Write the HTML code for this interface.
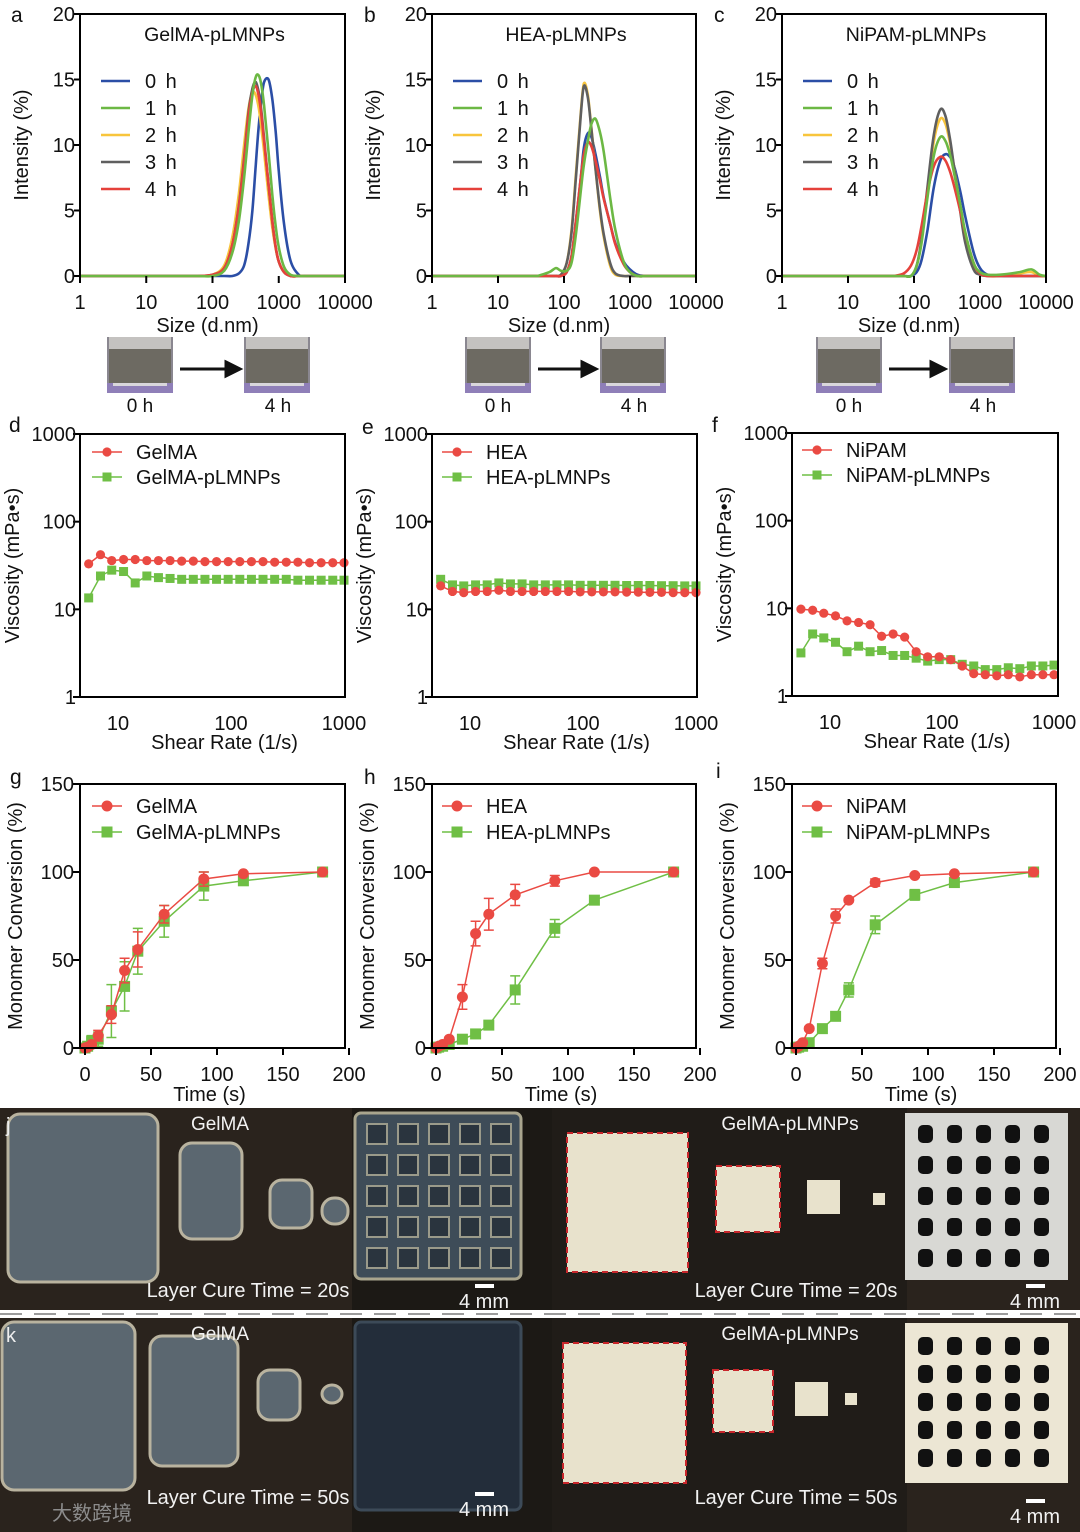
<!DOCTYPE html>
<html><head><meta charset="utf-8">
<style>
html,body{margin:0;padding:0;background:#fff;}
svg{display:block;font-family:"Liberation Sans","Noto Sans CJK SC",sans-serif;}
</style></head>
<body>
<svg id="fig" width="1080" height="1532" viewBox="0 0 1080 1532" xmlns="http://www.w3.org/2000/svg"></svg>
<script>
// ---------- DLS data ----------
const dlsSizesA=[60,100,150,200,250,300,350,400,450,500,550,600,700,800,900,1000,1200,1500,2000,2500,3500];
const dlsA0=[0,0,0,0,0.2,0.8,2.5,5,8.5,11.5,13.5,14.8,15,13.5,11,8,4,1.2,0.1,0,0];
const dlsA1=[0,0,0.4,1.8,4.2,7.5,11,13.8,15.2,15.3,14.5,13,9.5,6.2,3.8,2.2,0.7,0.1,0,0,0];
const dlsA2=[0,0.1,0.8,3,6.3,10,12.8,14,13.8,12.8,11.2,9.5,6.2,3.7,2.1,1.1,0.3,0,0,0,0];
const dlsA3=[0,0.1,0.6,2.4,5.4,9,12.5,14.3,14.8,14,12.5,10.5,7,4.2,2.2,1.1,0.3,0,0,0,0];
const dlsA4=[0,0.1,0.6,2.4,5.3,8.8,12.2,14,14.5,13.7,12.2,10.3,7,4.2,2.2,1.1,0.3,0,0,0,0];
const dlsSizesB=[40,60,75,90,110,130,150,180,200,230,260,300,350,400,500,600,800,1000,1300,1700,2200];
const dlsB0=[0,0,0,0,0.3,1.5,4,7.5,9.8,10.9,10.6,9.3,7.6,6,4,2.5,1.1,0.5,0.1,0,0];
const dlsB1=[0,0.3,0.6,0.4,0.4,1,3,6.5,8.5,10.3,11.6,12,11,9.5,6,3.5,1.1,0.3,0,0,0];
const dlsB2=[0,0,0,0.1,1,3.5,7.5,12.5,14.7,13.8,11.3,8.2,5,3,0.8,0.1,0,0,0,0,0];
const dlsB3=[0,0,0,0.1,1,3.3,7.2,12.3,14.5,13.6,11.2,8.2,5.2,3.2,1,0.2,0,0,0,0,0];
const dlsB4=[0,0,0,0,0.3,1.5,4,7.5,9.3,10.2,9.9,8.8,7.3,5.9,4,2.4,0.9,0.3,0,0,0];
const dlsSizesC=[50,70,90,110,130,160,200,250,300,350,400,500,600,800,1000,1300,2000,4000,6000,8000,10000];
const dlsC0=[0,0,0,0.3,1.2,3.5,6.8,8.8,9.3,9.1,8.5,6.5,4.5,1.8,0.6,0.1,0,0,0,0,0];
const dlsC1=[0,0,0,0.8,2.5,6,9.2,10.6,10.3,9.3,8,5.5,3.3,1,0.3,0.1,0.1,0.3,0.5,0.1,0];
const dlsC2=[0,0,0,0.8,2.7,6.5,10.3,12,11.6,10.2,8.5,5.3,2.8,0.7,0.2,0,0,0.2,0.3,0,0];
const dlsC3=[0,0,0,0.8,2.8,6.8,10.8,12.7,12.2,10.5,8.5,5,2.5,0.5,0.1,0,0,0,0,0,0];
const dlsC4=[0,0.2,0.8,2,3.8,6.4,8.4,9.1,8.8,8,7,5,3.2,1,0.2,0,0,0,0,0,0];
const dlsLegend=["0 h","1 h","2 h","3 h","4 h"];
const dlsXTicks=[1,10,100,1000,10000];
const dlsYTicks=[0,5,10,15,20];
// ---------- Viscosity data ----------
const shearRates=[5.5,7,8.8,11.2,14.2,18,22.8,28.9,36.6,46.4,58.8,74.5,94.4,119.6,151.6,192,243.4,308.4,390.8,495.3,627.6,795.3,1000];
const viscGelMA=[33,42,36,37,37,36,36,36,35.5,35.5,35,35,35,35,35,35,34.5,34.5,34.5,34,34,34,34];
const viscGelMAp=[13.5,24,28,27,20,24,23,22.5,22,22,22,22,22,22,22,22,22,22,21.5,21.5,21.5,21.5,21.5];
const viscHEA=[18.5,16,15.5,16,16,16.5,16,16,16,16,16,16,15.8,15.8,15.8,15.8,15.7,15.7,15.6,15.6,15.5,15.5,15.5];
const viscHEAp=[22,19,18.5,19,19,20,19.5,19.5,19,19,19,19,18.8,18.8,18.8,18.8,18.7,18.7,18.7,18.6,18.6,18.5,18.5];
const viscNiPAM=[9.8,9.5,8.8,8.2,7.2,6.9,6.5,4.8,5.1,4.7,3.2,2.8,2.8,2.6,2.2,1.8,1.75,1.7,1.75,1.65,1.75,1.75,1.75];
const viscNiPAMp=[3.1,5.1,4.6,4.1,3.2,3.7,3.2,3.3,2.9,2.9,2.7,2.5,2.6,2.6,2.3,2.2,2.0,2.0,2.1,2.05,2.2,2.2,2.25];
const viscXTicks=[10,100,1000];
const viscYTicks=[1,10,100,1000];
// ---------- Conversion data ----------
const convTimes=[0,2,5,10,20,30,40,60,90,120,180];
const convGelMA=[0,0.5,2,7,19,44,56,76,96,99,100];
const convGelMAErr=[0,0,1,3,5,7,10,5,4,1,0];
const convGelMAp=[0,1,4,5,21,35,55,72,92,95,100];
const convGelMApErr=[0,0,3,4,15,14,13,9,8,2,0];
const convHEA=[0,1,2,5,29,65,76,87,95,100,100];
const convHEAErr=[0,0,1,1,7,7,9,6,3,0,0];
const convHEAp=[0,0.5,1,2,5,8,13,33,68,84,100];
const convHEApErr=[0,0,0,1,1,1,2,8,5,1,0];
const convNiPAM=[0,1,3,11,48,75,84,94,98,99,100];
const convNiPAMErr=[0,0,1,1,3,4,1,2,1,0,0];
const convNiPAMp=[0,0.5,1,3,11,18,33,70,87,94,100];
const convNiPAMpErr=[0,0,0,1,1,1,4,5,3,2,0];
const convXTicks=[0,50,100,150,200];
const convYTicks=[0,50,100,150];

const NS="http://www.w3.org/2000/svg";
const svg=document.getElementById('fig');
function mk(tag,attrs,parent){const e=document.createElementNS(NS,tag);for(const k in attrs)e.setAttribute(k,attrs[k]);(parent||svg).appendChild(e);return e;}
function txt(s,x,y,size,anchor,parent,extra){const t=mk('text',Object.assign({x:x,y:y,'font-size':size,'text-anchor':anchor||'middle',fill:'#111'},extra||{}),parent);t.textContent=s;return t;}
function smooth(pts){let d='M'+pts[0][0].toFixed(1)+','+pts[0][1].toFixed(1);
  for(let i=0;i<pts.length-1;i++){const p0=pts[Math.max(0,i-1)],p1=pts[i],p2=pts[i+1],p3=pts[Math.min(pts.length-1,i+2)];
    const c1x=p1[0]+(p2[0]-p0[0])/6,c1y=p1[1]+(p2[1]-p0[1])/6,c2x=p2[0]-(p3[0]-p1[0])/6,c2y=p2[1]-(p3[1]-p1[1])/6;
    d+=` C${c1x.toFixed(1)},${c1y.toFixed(1)} ${c2x.toFixed(1)},${c2y.toFixed(1)} ${p2[0].toFixed(1)},${p2[1].toFixed(1)}`;}
  return d;}
const C={blue:'#2b4ea6',green:'#6cb844',yellow:'#f8c53c',gray:'#5f5f5f',red:'#e5413b'};
const RED='#ea4a43',GRN='#6fbf45';

// ---------- DLS charts ----------
function dlsChart(name,x0,x1,y0,y1,sizes,series,title){
  const g=mk('g',{});
  
  
  const sx=s=>x0+Math.log10(s)/4*(x1-x0);
  const sy=v=>y0-v/20*(y0-y1);
  const order=[0,2,3,4,1];
  const cols=[C.blue,C.green,C.yellow,C.gray,C.red];
  order.forEach(i=>{
    const pts=sizes.map((s,k)=>[sx(s),Math.min(y0,sy(series[i][k]))]);
    let d='M'+sx(1)+','+sy(0)+' L'+pts[0][0].toFixed(1)+','+pts[0][1].toFixed(1)+' '+smooth(pts).slice(1).replace(/^[^C]*/,'')+' L'+sx(10000)+','+sy(0);
    const p=mk('path',{d:d,fill:'none',stroke:cols[i],'stroke-width':2.6,'stroke-linejoin':'round'},g);
    
    
  });
  const box=mk('path',{d:`M${x0},${y1} H${x1} V${y0} M${x0},${y1} V${y0}`,fill:'none',stroke:'#000','stroke-width':2},g);
  
  
  dlsYTicks.forEach(v=>{mk('line',{x1:x0-6,x2:x0,y1:sy(v),y2:sy(v),stroke:'#000','stroke-width':2},g);
    const t=txt(String(v),x0-5,sy(v)+7,20,'end',g);
    
    });
  dlsXTicks.forEach(v=>{mk('line',{x1:sx(v),x2:sx(v),y1:y0,y2:y0+7,stroke:'#000','stroke-width':2},g);
    const t=txt(String(v),sx(v),y0+33,20,'middle',g);
    
    });
  const tt=txt(title,(x0+x1)/2+2,y1+27,19.5,'middle',g);
  
  
  dlsLegend.forEach((l,i)=>{const yy=y1+67+i*27;
    const ln=mk('line',{x1:x0+21,x2:x0+50,y1:yy,y2:yy,stroke:cols[i],'stroke-width':2.6},g);
    
    
    const t=txt(l,x0+65,yy+7,20,'start',g,{'letter-spacing':'2'});
    
    });
  const xt=txt('Size (d.nm)',(x0+x1)/2-5,y0+56,20,'middle',g);
  
  
  const yt=txt('Intensity (%)',0,0,20,'middle',g,{transform:`translate(${x0-52},${(y0+y1)/2}) rotate(-90)`});
  
  
}
dlsChart('dls-chart-gelma',80,345,276,14,dlsSizesA,[dlsA0,dlsA1,dlsA2,dlsA3,dlsA4],'GelMA-pLMNPs');
dlsChart('dls-chart-hea',432,696,276,14,dlsSizesB,[dlsB0,dlsB1,dlsB2,dlsB3,dlsB4],'HEA-pLMNPs');
dlsChart('dls-chart-nipam',782,1046,276,14,dlsSizesC,[dlsC0,dlsC1,dlsC2,dlsC3,dlsC4],'NiPAM-pLMNPs');

// vial photos
function vial(x,y,label,lx){
  const g=mk('g',{});
  
  
  mk('rect',{x:x,y:y,width:66,height:56,fill:'#8a8790'},g);
  mk('rect',{x:x+2,y:y,width:62,height:12,fill:'#c4c2c0'},g);
  mk('rect',{x:x+2,y:y+12,width:62,height:34,fill:'#6d6a62'},g);
  mk('rect',{x:x,y:y+46,width:66,height:10,fill:'#8f7fb8'},g);
  mk('rect',{x:x+6,y:y+46,width:54,height:3,fill:'#d9d7dc'},g);
  const t=txt(label,lx,y+75,19,'middle',g);
  
  
}
function arrow(x1,x2,y){
  const a=mk('path',{d:`M${x1},${y} H${x2-12} M${x2-14},${y-7} L${x2},${y} L${x2-14},${y+7} Z`,stroke:'#111','stroke-width':3,fill:'#111'});
  
  
}
[[107,244],[465,600],[816,949]].forEach(p=>{vial(p[0],337,'0 h',p[0]+33);vial(p[1],337,'4 h',p[1]+34);arrow(p[0]+73,p[1]-4,369);});

// ---------- Viscosity charts ----------
function viscChart(name,x0,x1,y0,y1,xTen,dec,aVals,bVals,labA,labB,legX,legY){
  const g=mk('g',{});
  
  
  const sx=s=>xTen+(Math.log10(s)-1)*dec;
  const sy=v=>y0-Math.log10(v)/3*(y0-y1);
  [[bVals,GRN,'sq'],[aVals,RED,'ci']].forEach(([vals,col,m])=>{
    let d='';vals.forEach((v,k)=>{d+=(k?' L':'M')+sx(shearRates[k]).toFixed(1)+','+sy(v).toFixed(1);});
    const p=mk('path',{d:d,fill:'none',stroke:col,'stroke-width':1.5},g);
    
    
    vals.forEach((v,k)=>{const cx=sx(shearRates[k]),cy=sy(v);
      const mm=m==='ci'?mk('circle',{cx:cx,cy:cy,r:4.6,fill:col},g):mk('rect',{x:cx-4.5,y:cy-4.5,width:9,height:9,fill:col},g);
      
      });
  });
  const box=mk('path',{d:`M${x0},${y1} H${x1} V${y0} H${x0} Z`,fill:'none',stroke:'#000','stroke-width':2},g);
  
  
  viscYTicks.forEach(v=>{mk('line',{x1:x0-7,x2:x0,y1:sy(v),y2:sy(v),stroke:'#000','stroke-width':2},g);
    const t=txt(String(v),x0-4,sy(v)+7,20,'end',g);
    
    });
  viscXTicks.forEach(v=>{const t=txt(String(v),sx(v),y0+33,20,'middle',g);
    
    });
  [[labA,RED,'ci'],[labB,GRN,'sq']].forEach(([l,col,m],i)=>{const yy=legY+i*25;
    mk('line',{x1:legX,x2:legX+30,y1:yy,y2:yy,stroke:col,'stroke-width':1.5},g);
    const mm=m==='ci'?mk('circle',{cx:legX+15,cy:yy,r:4.6,fill:col},g):mk('rect',{x:legX+10.5,y:yy-4.5,width:9,height:9,fill:col},g);
    
    
    const t=txt(l,legX+44,yy+7,20,'start',g);
    
    });
  const xt=txt('Shear Rate (1/s)',(x0+x1)/2+12,y0+52,20,'middle',g);
  
  
  const yt=txt('Viscosity (mPa•s)',0,0,20,'middle',g,{transform:`translate(${x0-61},${(y0+y1)/2}) rotate(-90)`});
  
  
}
viscChart('viscosity-chart-gelma',80,345,697,434,118,113,viscGelMA,viscGelMAp,'GelMA','GelMA-pLMNPs',92,452);
viscChart('viscosity-chart-hea',432,697,697,434,470,113,viscHEA,viscHEAp,'HEA','HEA-pLMNPs',442,452);
viscChart('viscosity-chart-nipam',792,1058,696,433,830,112,viscNiPAM,viscNiPAMp,'NiPAM','NiPAM-pLMNPs',802,450);

// ---------- Conversion charts ----------
function convChart(name,x0,x1,y0,y1,zeroX,aVals,aErr,bVals,bErr,labA,labB,legX){
  const g=mk('g',{});
  
  
  const sx=t=>zeroX+t/200*(x1+4-zeroX);
  const sy=v=>y0-v/150*(y0-y1);
  [[bVals,bErr,GRN,'sq'],[aVals,aErr,RED,'ci']].forEach(([vals,err,col,m])=>{
    let d='';vals.forEach((v,k)=>{d+=(k?' L':'M')+sx(convTimes[k]).toFixed(1)+','+sy(v).toFixed(1);});
    const p=mk('path',{d:d,fill:'none',stroke:col,'stroke-width':1.5},g);
    
    
    vals.forEach((v,k)=>{const cx=sx(convTimes[k]),cy=sy(v);
      if(err[k]>0){const e=mk('path',{d:`M${cx},${sy(v-err[k])} V${sy(v+err[k])} M${cx-5},${sy(v+err[k])} H${cx+5} M${cx-5},${sy(v-err[k])} H${cx+5}`,stroke:col,'stroke-width':1.5,fill:'none'},g);
        
        }
      const mm=m==='ci'?mk('circle',{cx:cx,cy:cy,r:5.5,fill:col},g):mk('rect',{x:cx-5.5,y:cy-5.5,width:11,height:11,fill:col},g);
      
      });
  });
  const box=mk('path',{d:`M${x0},${y1} H${x1} V${y0} H${x0} Z`,fill:'none',stroke:'#000','stroke-width':2},g);
  
  
  convYTicks.forEach(v=>{mk('line',{x1:x0-7,x2:x0,y1:sy(v),y2:sy(v),stroke:'#000','stroke-width':2},g);
    const t=txt(String(v),x0-6,sy(v)+7,20,'end',g);
    
    });
  convXTicks.forEach(v=>{mk('line',{x1:sx(v),x2:sx(v),y1:y0,y2:y0+7,stroke:'#000','stroke-width':2},g);
    const t=txt(String(v),sx(v),y0+33,20,'middle',g);
    
    });
  [[labA,RED,'ci'],[labB,GRN,'sq']].forEach(([l,col,m],i)=>{const yy=806+i*26;
    mk('line',{x1:legX,x2:legX+30,y1:yy,y2:yy,stroke:col,'stroke-width':1.5},g);
    const mm=m==='ci'?mk('circle',{cx:legX+15,cy:yy,r:5.5,fill:col},g):mk('rect',{x:legX+9.5,y:yy-5.5,width:11,height:11,fill:col},g);
    
    
    const t=txt(l,legX+44,yy+7,20,'start',g);
    
    });
  const xt=txt('Time (s)',(x0+x1)/2-3,y0+53,20,'middle',g);
  
  
  const yt=txt('Monomer Conversion (%)',0,0,20,'middle',g,{transform:`translate(${x0-58},${(y0+y1)/2}) rotate(-90)`});
  
  
}
convChart('conversion-chart-gelma',80,345,1048,784,85,convGelMA,convGelMAErr,convGelMAp,convGelMApErr,'GelMA','GelMA-pLMNPs',92);
convChart('conversion-chart-hea',432,696,1048,784,436,convHEA,convHEAErr,convHEAp,convHEApErr,'HEA','HEA-pLMNPs',442);
convChart('conversion-chart-nipam',792,1056,1048,784,796,convNiPAM,convNiPAMErr,convNiPAMp,convNiPAMpErr,'NiPAM','NiPAM-pLMNPs',802);

// panel letters
[['a',11,22],['b',364,22],['c',714,22],['d',9,432],['e',362,434],['f',712,432],['g',10,784],['h',364,784],['i',716,778]].forEach(([l,x,y])=>{
  const t=txt(l,x,y,21,'start');
  
  });

// ---------- Photo panels ----------
function photoRow(y0,h,cure,isK){
  const g=mk('g',{});
  
  
  mk('rect',{x:0,y:y0,width:1080,height:h,fill:'#2a231d'},g);
  mk('rect',{x:352,y:y0,width:200,height:h,fill:'#1c1915'},g);
  mk('rect',{x:552,y:y0,width:355,height:h,fill:'#201c18'},g);
  const gel=isK?[[2,1322,133,168],[150,1336,88,130],[258,1370,42,50],[322,1385,20,18]]:[[8,1114,150,168],[180,1143,62,96],[270,1180,42,48],[322,1198,26,26]];
  gel.forEach(b=>{const r=mk('rect',{x:b[0],y:b[1],width:b[2],height:b[3],rx:12,fill:'#5b6770',stroke:'#b9b39f','stroke-width':3},g);
    
    });
  const sc=mk('rect',{x:355,y:isK?1322:1113,width:166,height:isK?188:166,rx:6,fill:isK?'#232d3a':'#3e4c58',stroke:isK?'#3c4a58':'#a9a58e','stroke-width':3},g);
  
  
  if(!isK){for(let r=0;r<5;r++)for(let c=0;c<5;c++)mk('rect',{x:367+c*31,y:1124+r*31,width:20,height:20,fill:'#2a343e',stroke:'#9a9a8a','stroke-width':2},g);}
  const pl=isK?[[563,1343,123,140],[713,1370,60,62],[795,1382,33,34],[845,1393,12,12]]:[[567,1133,121,139],[716,1166,64,66],[807,1180,33,34],[873,1193,12,12]];
  pl.forEach((b,i)=>{const r=mk('rect',{x:b[0],y:b[1],width:b[2],height:b[3],fill:'#e8e2cc',stroke:i<2?'#c8262b':'none','stroke-width':2,'stroke-dasharray':'6 4'},g);
    
    });
  const ps=mk('rect',{x:905,y:isK?1323:1113,width:163,height:isK?160:167,fill:isK?'#ece6d4':'#d8d8d4'},g);
  
  
  const py=isK?1337:1125;
  for(let r=0;r<5;r++)for(let c=0;c<5;c++)mk('rect',{x:918+c*29,y:py+r*(isK?28:31),width:15,height:18,rx:5,fill:'#111'},g);
  [['GelMA',220],['GelMA-pLMNPs',790]].forEach(([s,x])=>{const t=txt(s,x,y0+22,19,'middle',g,{fill:'#f2f2f2'});
    
    });
  [248,796].forEach(x=>{const t=txt('Layer Cure Time = '+cure,x,isK?1504:1297,20,'middle',g,{fill:'#f2f2f2'});
    
    });
  [[484,isK?1516:1308],[1035,isK?1523:1308]].forEach(([x,y])=>{mk('rect',{x:x-9,y:y-24,width:19,height:4,fill:'#fff'},g);
    const t=txt('4 mm',x,y,20,'middle',g,{fill:'#f2f2f2'});
    
    });
  const pl2=txt(isK?'k':'j',6,y0+24,20,'start',g,{fill:'#eee'});
  
  
}
photoRow(1108,202,'20s',false);
photoRow(1318,214,'50s',true);
const dash=mk('line',{x1:0,x2:1080,y1:1314,y2:1314,stroke:'#9c9c9c','stroke-width':2,'stroke-dasharray':'22 12'});


const wm=txt('大数跨境',52,1520,20,'start',svg,{fill:'#8c8c8c'});


</script>
</body></html>
